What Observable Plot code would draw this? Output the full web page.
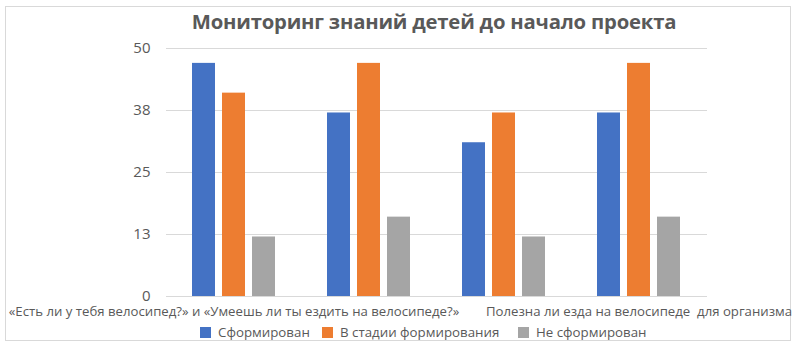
<!DOCTYPE html>
<html>
<head>
<meta charset="utf-8">
<script src="https://cdn.jsdelivr.net/npm/d3@7"></script>
<script src="https://cdn.jsdelivr.net/npm/@observablehq/plot@0.6"></script>
<style>
  html, body { margin: 0; padding: 0; background: #fff; }
  body { width: 800px; height: 351px; position: relative; overflow: hidden; font-family: "Open Sans", "Liberation Sans", sans-serif; color: #595959; }
  #frame { position: absolute; left: 5px; top: 6px; width: 786px; height: 335px; border: 1px solid #d9d9d9; box-sizing: border-box; }
  #title { position: absolute; top: 7px; left: 184px; width: 500px; text-align: center; font-size: 20.3px; font-weight: bold; color: #595959; white-space: nowrap; letter-spacing: -0.2px; }
  #chart { position: absolute; left: 0; top: 0; }
  #legend { position: absolute; top: 323px; left: 0; width: 800px; height: 20px; font-size: 13.3px; white-space: nowrap; }
  .item { position: absolute; top: 0; display: flex; align-items: center; }
  .sw { width: 11px; height: 11px; margin-right: 7px; }
</style>
</head>
<body>
<div id="frame"></div>
<div id="chart"></div>
<div id="title"></div>
<div id="legend"></div>
<script>
const title = "Мониторинг знаний детей до начало проекта";
const categories = ["Q1", "Q2", "Q3", "Q4"];
const categoryLabels = [
  "«Есть ли у тебя велосипед?» и «Умеешь ли ты ездить на велосипеде?»",
  "",
  "",
  "Полезна ли езда на велосипеде  для организма"
];
const seriesNames = ["Сформирован", "В стадии формирования", "Не сформирован"];
const seriesColors = ["#4472C4", "#ED7D31", "#A5A5A5"];
const sformirovan = [47, 37, 31, 37];
const vStadii = [41, 47, 37, 47];
const neSformirovan = [12, 16, 12, 16];
const yTicks = [0, 12.5, 25, 37.5, 50];

const seriesValues = [sformirovan, vStadii, neSformirovan];
document.getElementById("title").textContent = title;

const barOffsets = [-30, 0, 30]; // pixel spacing of the bars inside a group
const barMarks = seriesNames.map((s, j) =>
  Plot.barY(categories.map((c, i) => ({category: c, value: seriesValues[j][i]})),
    {x: "category", y: "value", fill: seriesColors[j], dx: barOffsets[j]})
);

const plot = Plot.plot({
  width: 800,
  height: 351,
  marginTop: 48,
  marginBottom: 55,
  marginLeft: 166,
  marginRight: 93,
  style: {fontFamily: "'Open Sans', 'Liberation Sans', sans-serif", fontSize: "14px", color: "#595959", background: "transparent", overflow: "visible"},
  x: {domain: categories, paddingInner: 0.8275, paddingOuter: 0.41375, label: null, axis: null},
  y: {domain: [0, 50], label: null, axis: null},
  marks: [
    Plot.gridY(yTicks, {stroke: "#d9d9d9", strokeOpacity: 1, strokeWidth: 1}),
    Plot.axisY(yTicks, {tickSize: 0, tickPadding: 16, tickFormat: d => Math.round(d), fontSize: 15, label: null}),
    Plot.axisX({anchor: "bottom", tickSize: 0, tickPadding: 10, tickFormat: (d) => categoryLabels[categories.indexOf(d)], fontSize: 13.2, label: null}),
    ...barMarks
  ]
});
document.getElementById("chart").appendChild(plot);

const legendLefts = [200, 322, 518];
const legend = document.getElementById("legend");
seriesNames.forEach((s, j) => {
  const it = document.createElement("div");
  it.className = "item";
  it.style.left = legendLefts[j] + "px";
  const sw = document.createElement("div");
  sw.className = "sw";
  sw.style.background = seriesColors[j];
  const t = document.createElement("span");
  t.textContent = s;
  it.appendChild(sw); it.appendChild(t);
  legend.appendChild(it);
});
</script>
</body>
</html>
